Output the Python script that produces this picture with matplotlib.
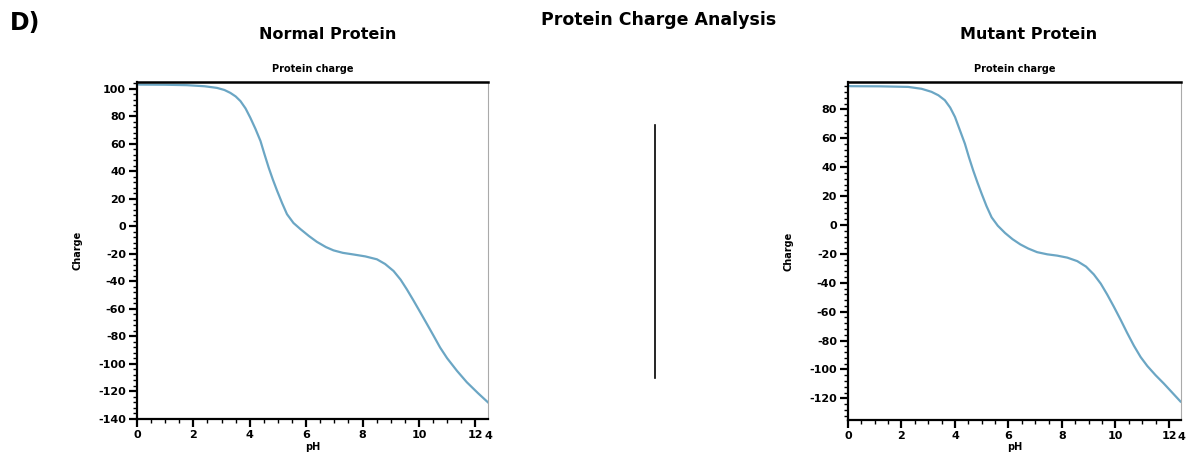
import matplotlib.pyplot as plt
from matplotlib.ticker import MultipleLocator

plt.rcParams['axes.unicode_minus'] = False

# pH vs net charge for both proteins
normal_ph = [0.0, 0.12, 1.0, 1.77, 2.4, 2.84, 3.1, 3.31, 3.5, 3.67, 3.85, 4.02, 4.2, 4.38,
             4.52, 4.67, 4.82, 4.97, 5.15, 5.32, 5.55, 5.8, 6.1, 6.38, 6.7, 6.97, 7.3, 7.68,
             8.1, 8.51, 8.8, 9.1, 9.35, 9.57, 9.8, 10.05, 10.3, 10.52, 10.75, 11.0,
             11.35, 11.7, 12.1, 12.47]
normal_charge = [103.3, 103.1, 103.0, 102.7, 101.9, 100.7, 99.2, 97.1, 94.5, 91.1, 85.8, 79,
                 71, 62.1, 52.6, 42.8, 34, 25.9, 16.8, 8.9, 2.5, -2.0, -7.0, -11.2, -15.0,
                 -17.4, -19.2, -20.4, -21.8, -23.9, -27.3, -32.4, -38.7, -45.7, -53.6, -62.5,
                 -71.5, -79.5, -88.0, -95.8, -105.0, -113.3, -121.3, -128.3]

mutant_ph = [0.0, 0.12, 1.2, 2.25, 2.75, 3.12, 3.38, 3.62, 3.82, 4.0, 4.18, 4.37, 4.52,
             4.68, 4.84, 5.0, 5.18, 5.37, 5.6, 5.87, 6.15, 6.44, 6.74, 7.07, 7.45, 7.82,
             8.2, 8.57, 8.9, 9.19, 9.45, 9.69, 9.94, 10.19, 10.44, 10.69, 10.94, 11.19,
             11.5, 11.81, 12.1, 12.43]
mutant_charge = [96.2, 96.1, 96.0, 95.6, 94.3, 92.2, 89.8, 86.4, 81.3, 74.8, 65.8, 56.3,
                 47.0, 37.8, 29.4, 21.5, 13.0, 5.3, -0.5, -5.5, -9.8, -13.4, -16.3, -18.8,
                 -20.3, -21.2, -22.6, -25.0, -28.8, -34.2, -40.6, -48.1, -56.6, -65.5,
                 -74.8, -83.6, -91.4, -97.6, -104.0, -109.8, -115.6, -122.2]

x_ticks = [0, 2, 4, 6, 8, 10, 12]

fig = plt.figure(figsize=(11.89, 4.55), dpi=100)

fig.text(0.008, 0.975, 'D)', fontsize=17, fontweight='bold', va='top')
fig.text(0.554, 0.975, 'Protein Charge Analysis', fontsize=12.5, fontweight='bold',
         va='top', ha='center', color='black')
fig.text(0.276, 0.925, 'Normal Protein', fontsize=11.5, fontweight='bold', va='center', ha='center')
fig.text(0.865, 0.925, 'Mutant Protein', fontsize=11.5, fontweight='bold', va='center', ha='center')

# divider line between the two panels
fig.add_artist(plt.Line2D([0.551, 0.551], [1 - 125 / 455, 1 - 378 / 455],
                          color='black', lw=1.2, transform=fig.transFigure))


def draw_panel(rect, ph, charge, ylim, yticks):
    ax = fig.add_axes(rect)
    ax.plot(ph, charge, color='#6ba6c4', lw=1.6, solid_joinstyle='round')
    ax.set_xlim(0, 12.45)
    ax.set_ylim(*ylim)
    ax.set_xticks(x_ticks)
    ax.set_yticks(yticks)
    ax.xaxis.set_minor_locator(MultipleLocator(0.5))
    ax.yaxis.set_minor_locator(MultipleLocator(4))
    ax.tick_params(which='major', direction='out', length=6, width=1.6, labelsize=8, pad=2)
    ax.tick_params(which='minor', direction='out', length=3, width=1)
    for lab in ax.get_xticklabels() + ax.get_yticklabels():
        lab.set_fontweight('bold')
    ax.text(12.45, -0.035, '4', transform=ax.get_xaxis_transform(), ha='center', va='top',
            fontsize=8, fontweight='bold')
    ax.spines['top'].set_linewidth(1.8)
    ax.spines['left'].set_linewidth(1.6)
    ax.spines['bottom'].set_linewidth(1.6)
    ax.spines['right'].set_color('#aaaaaa')
    ax.spines['right'].set_linewidth(0.8)
    ax.set_title('Protein charge', fontsize=7, fontweight='bold', pad=7)
    ax.set_xlabel('pH', fontsize=7, fontweight='bold', labelpad=1)
    ax.set_ylabel('Charge', fontsize=7, fontweight='bold', labelpad=11)
    return ax


draw_panel([137 / 1189, 1 - 419 / 455, 351 / 1189, 337 / 455],
           normal_ph, normal_charge, (-140, 105), list(range(-140, 101, 20)))
draw_panel([848 / 1189, 1 - 420 / 455, 333 / 1189, 338 / 455],
           mutant_ph, mutant_charge, (-135, 99), list(range(-120, 81, 20)))

fig.savefig('out.png', dpi=100)
